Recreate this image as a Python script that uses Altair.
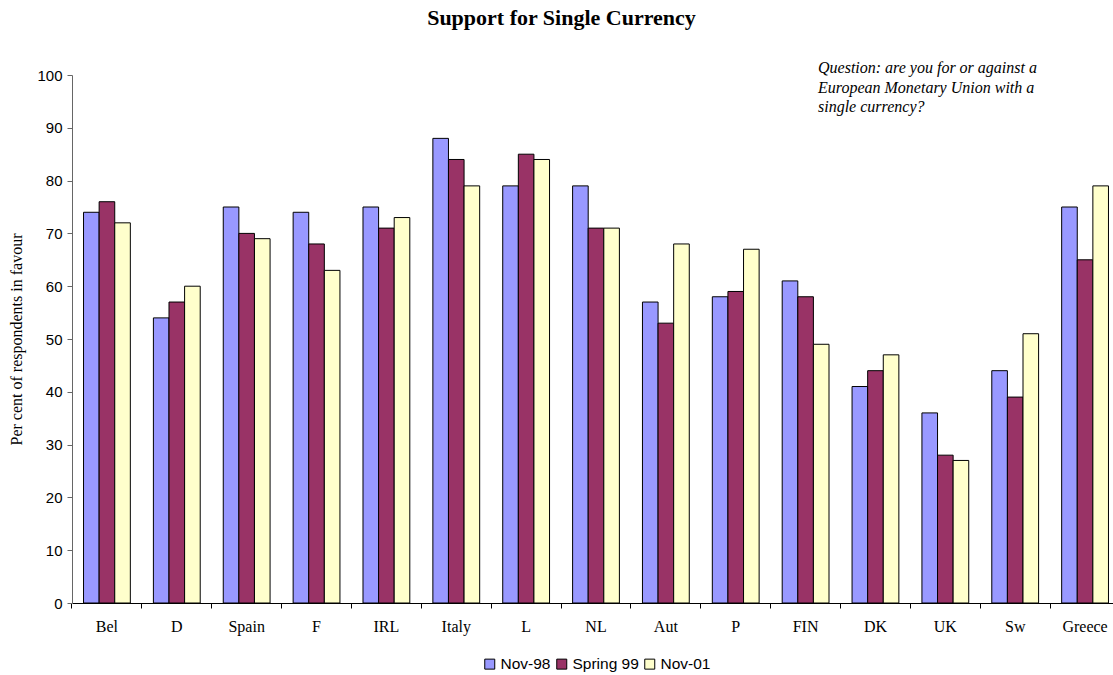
import altair as alt
import pandas as pd

countries = ["Bel", "D", "Spain", "F", "IRL", "Italy", "L", "NL", "Aut", "P",
             "FIN", "DK", "UK", "Sw", "Greece"]
series = ["Nov-98", "Spring 99", "Nov-01"]
nov98 = [74, 54, 75, 74, 75, 88, 79, 79, 57, 58, 61, 41, 36, 44, 75]
spring99 = [76, 57, 70, 68, 71, 84, 85, 71, 53, 59, 58, 44, 28, 39, 65]
nov01 = [72, 60, 69, 63, 73, 79, 84, 71, 68, 67, 49, 47, 27, 51, 79]
colors = ["#9999FF", "#993366", "#FFFFCC"]
note_lines = ["Question: are you for or against a",
              "European Monetary Union with a",
              "single currency?"]

rows = []
for s, vals in zip(series, [nov98, spring99, nov01]):
    for c, v in zip(countries, vals):
        rows.append({"country": c, "series": s, "value": v})
df = pd.DataFrame(rows)

bars = alt.Chart(df).mark_bar(stroke="black", strokeWidth=1).encode(
    x=alt.X("country:N", sort=countries, title=None,
            scale=alt.Scale(paddingInner=0.33, paddingOuter=0.165, range=[0, 1048]),
            axis=alt.Axis(labelAngle=0, bandPosition=-0.2463,
                          labelFont="Liberation Serif",
                          labelFontSize=16, labelColor="black", labelPadding=10,
                          tickSize=5, tickColor="black", domainColor="black",
                          grid=False)),
    xOffset=alt.XOffset("series:N", sort=series),
    y=alt.Y("value:Q", title="Per cent of respondents in favour",
            scale=alt.Scale(domain=[0, 100], nice=False),
            axis=alt.Axis(values=list(range(0, 101, 10)), grid=False,
                          labelFont="Liberation Sans", labelFontSize=15,
                          labelColor="black", tickSize=5, tickColor="#666666",
                          domainColor="#666666", labelPadding=5,
                          titleFont="Liberation Serif", titleFontSize=16,
                          titleFontWeight="normal", titleColor="black",
                          titlePadding=12)),
    color=alt.Color("series:N", sort=series,
                    scale=alt.Scale(domain=series, range=colors),
                    legend=alt.Legend(title=None, orient="none", direction="horizontal",
                                      legendX=410, legendY=581,
                                      symbolType="square", symbolStrokeColor="black",
                                      symbolStrokeWidth=1, symbolSize=100,
                                      labelFont="Liberation Sans", labelFontSize=15.5,
                                      labelColor="black", columnPadding=3,
                                      labelOffset=3)),
)

note_df = pd.DataFrame({"note": ["\n".join(note_lines)]})
note = alt.Chart(note_df).mark_text(
    align="left", baseline="alphabetic", font="Liberation Serif",
    fontStyle="italic", fontSize=16, color="black", lineHeight=19.5,
    lineBreak="\n"
).encode(
    x=alt.value(746),
    y=alt.value(-2),
    text="note:N",
)

chart = alt.layer(bars, note).properties(
    width=1041, height=528,
    title=alt.TitleParams("Support for Single Currency", font="Liberation Serif",
                          fontSize=22, fontWeight="bold", color="black",
                          anchor="middle", dx=-31, offset=30),
    autosize=alt.AutoSizeParams(type="none"),
    padding={"left": 72, "top": 75, "right": 0, "bottom": 72},
).configure_view(stroke=None)

chart.save("out.html", embed_options={"renderer": "svg", "actions": False})
